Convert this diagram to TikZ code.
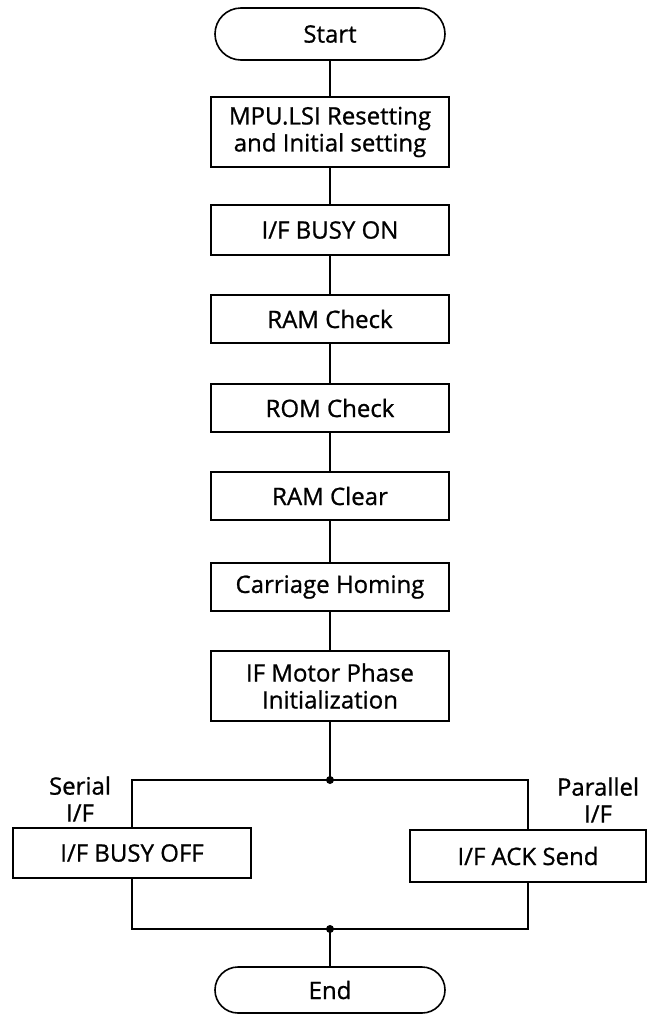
\documentclass[tikz,border=0pt]{standalone}
\usepackage{fontspec}
\setmainfont{Open Sans}[FakeBold=0.9]
\usetikzlibrary{shapes.misc,positioning,calc}

\begin{document}
\begin{tikzpicture}[x=1pt,y=-1pt,
    line width=1.6pt,
    every node/.style={font=\fontsize{24}{27}\selectfont},
    stepbox/.style={draw,rectangle,minimum width=238pt,minimum height=48pt,inner sep=0pt,align=center},
    termbox/.style={draw,rounded rectangle,minimum width=230pt,minimum height=52pt,inner sep=0pt},
    dot/.style={circle,fill,inner sep=0pt,minimum size=8pt}]
    \useasboundingbox (0,0) rectangle (647,1015);

    \node[termbox] (start) at (330,34) {Start};
    \node[stepbox,minimum height=70pt] (reset) at (330,132) {MPU.LSI Resetting\\and Initial setting};
    \node[stepbox,minimum height=50pt] (busyon) at (330,230) {I/F BUSY ON};
    \node[stepbox] (ramcheck) at (330,319) {RAM Check};
    \node[stepbox] (romcheck) at (330,408) {ROM Check};
    \node[stepbox] (ramclear) at (330,496) {RAM Clear};
    \node[stepbox] (homing) at (330,587) {Carriage Homing};
    \node[stepbox,minimum height=70pt] (motor) at (330,686) {IF Motor Phase\\Initialization};

    \node[dot] (split) at (330,780) {};
    \node[stepbox,minimum height=50pt] (busyoff) at (132,853) {I/F BUSY OFF};
    \node[stepbox,minimum width=236pt,minimum height=52pt] (acksend) at (528,856) {I/F ACK Send};
    \node[align=center] (serial) at (80,799) {Serial\\I/F};
    \node[align=center] (parallel) at (598,800) {Parallel\\I/F};
    \node[dot] (merge) at (330,929) {};
    \node[termbox,minimum height=46pt] (end) at (330,990) {End};

    \draw (start) -- (reset);
    \draw (reset) -- (busyon);
    \draw (busyon) -- (ramcheck);
    \draw (ramcheck) -- (romcheck);
    \draw (romcheck) -- (ramclear);
    \draw (ramclear) -- (homing);
    \draw (homing) -- (motor);
    \draw (motor) -- (split.center);
    \draw (split.center) -| (busyoff.north);
    \draw (split.center) -| (acksend.north);
    \draw (busyoff.south) |- (merge.center);
    \draw (acksend.south) |- (merge.center);
    \draw (merge.center) -- (end);
\end{tikzpicture}
\end{document}
